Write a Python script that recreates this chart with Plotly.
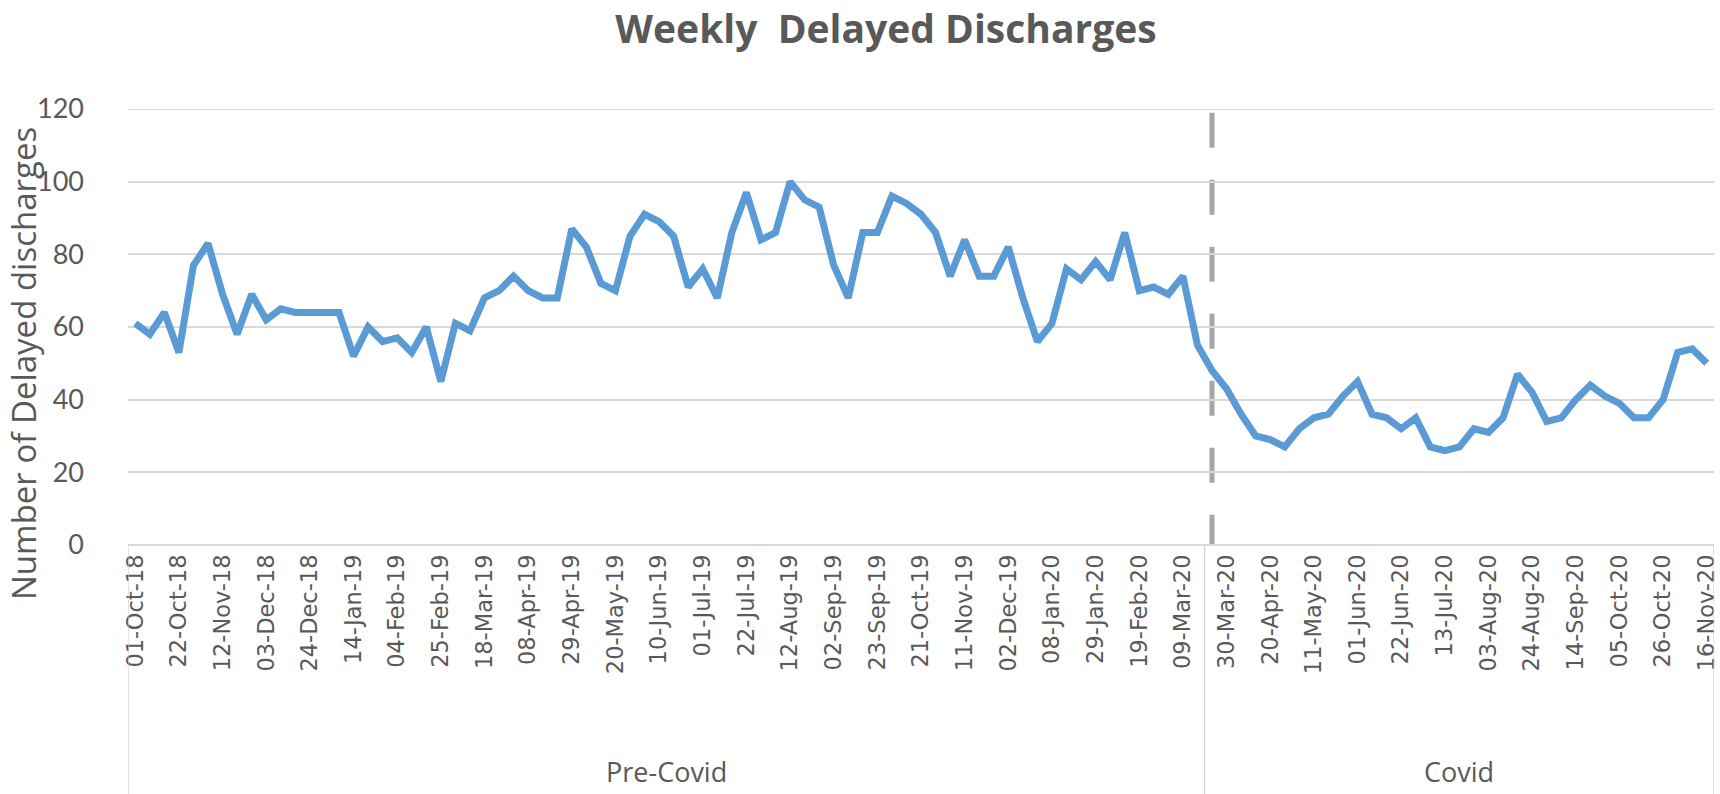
import plotly.graph_objects as go

# ---- data ----
delayed = [61, 58, 64, 53, 77, 83, 69, 58, 69, 62, 65, 64, 64, 64, 64, 52, 60, 56, 57,
           53, 60, 45, 61, 59, 68, 70, 74, 70, 68, 68, 87, 82, 72, 70, 85, 91, 89,
           85, 71, 76, 68, 86, 97, 84, 86, 100, 95, 93, 77, 68, 86, 86, 96, 94, 91,
           86, 74, 84, 74, 74, 82, 68, 56, 61, 76, 73, 78, 73, 86, 70, 71, 69, 74, 55,
           48, 43, 36, 30, 29, 27, 32, 35, 36, 41, 45, 36, 35, 32, 35, 27, 26, 27,
           32, 31, 35, 47, 42, 34, 35, 40, 44, 41, 39, 35, 35, 40, 53, 54, 50]

tick_labels = ["01-Oct-18", "22-Oct-18", "12-Nov-18", "03-Dec-18", "24-Dec-18", "14-Jan-19",
               "04-Feb-19", "25-Feb-19", "18-Mar-19", "08-Apr-19", "29-Apr-19", "20-May-19",
               "10-Jun-19", "01-Jul-19", "22-Jul-19", "12-Aug-19", "02-Sep-19", "23-Sep-19",
               "21-Oct-19", "11-Nov-19", "02-Dec-19", "08-Jan-20", "29-Jan-20", "19-Feb-20",
               "09-Mar-20", "30-Mar-20", "20-Apr-20", "11-May-20", "01-Jun-20", "22-Jun-20",
               "13-Jul-20", "03-Aug-20", "24-Aug-20", "14-Sep-20", "05-Oct-20", "26-Oct-20",
               "16-Nov-20"]
tick_step = 3

groups = ["Pre-Covid", "Covid"]
group_sizes = [74, 35]

# ---- layout constants ----
W, H = 1720, 794
ML, MR, MT, MB = 128, 6, 109, 249
plot_h = H - MT - MB
grey_txt = "#595959"

n = len(delayed)
x = list(range(n))

fig = go.Figure()
fig.add_trace(go.Scatter(x=x, y=delayed, mode="lines",
                         line=dict(color="#5b9bd5", width=7),
                         hoverinfo="y", showlegend=False))

# Covid start dashed line
covid_start = group_sizes[0]
fig.add_shape(type="line", xref="x", yref="y", x0=covid_start, x1=covid_start,
              y0=119, y1=0, line=dict(color="#a6a6a6", width=5, dash="35px,32px"),
              layer="below")

# top gridline at 120 (plotly omits it at the range edge)
fig.add_shape(type="line", xref="paper", yref="y", x0=0, x1=1, y0=120, y1=120,
              line=dict(color="#d9d9d9", width=2), layer="below")

# group separators and labels
bottom_paper = -MB / plot_h
edges = [-0.5]
for s in group_sizes:
    edges.append(edges[-1] + s)
for e in edges:
    fig.add_shape(type="line", xref="x", yref="paper", x0=e, x1=e, y0=0, y1=bottom_paper,
                  line=dict(color="#c8c8c8", width=1))
for g, a, b in zip(groups, edges[:-1], edges[1:]):
    fig.add_annotation(x=(a + b) / 2, xref="x", y=-(771 - (H - MB)) / plot_h, yref="paper",
                       text=g, showarrow=False, yanchor="middle",
                       font=dict(family="Open Sans", size=27, color=grey_txt))

# y axis title
fig.add_annotation(x=-(ML - 23) / (W - ML - MR), xref="paper",
                   y=(H - MB - 364) / plot_h, yref="paper",
                   text="Number of Delayed discharges", textangle=-90, showarrow=False,
                   xanchor="center", yanchor="middle",
                   font=dict(family="Open Sans", size=33, color=grey_txt))

fig.update_layout(
    width=W, height=H,
    margin=dict(l=ML, r=MR, t=MT, b=MB, autoexpand=False),
    paper_bgcolor="white", plot_bgcolor="white",
    title=dict(text="<b>Weekly  Delayed Discharges</b>", x=886 / W, xanchor="center",
               xref="container", y=1 - 29 / H, yanchor="middle", yref="container",
               font=dict(family="Open Sans", size=39, color=grey_txt)),
    xaxis=dict(range=[-0.5, n - 0.5], tickmode="array", automargin=False,
               tickvals=list(range(0, n, tick_step)), ticktext=tick_labels,
               tickangle=-90, showgrid=False, zeroline=False, showline=False,
               ticks="", ticklabelstandoff=4,
               tickfont=dict(family="DejaVu Sans", size=22.5, color=grey_txt)),
    yaxis=dict(range=[0, 120], dtick=20, showgrid=True, gridcolor="#d9d9d9", gridwidth=2,
               zeroline=True, zerolinecolor="#d9d9d9", zerolinewidth=2, showline=False,
               ticks="", ticklabelstandoff=43, automargin=False,
               tickfont=dict(family="Lato", size=27, color=grey_txt)),
)

fig.write_html("out.html", config={"displayModeBar": False},
               post_script="document.body.style.margin='0px';document.body.style.overflow='hidden';")
